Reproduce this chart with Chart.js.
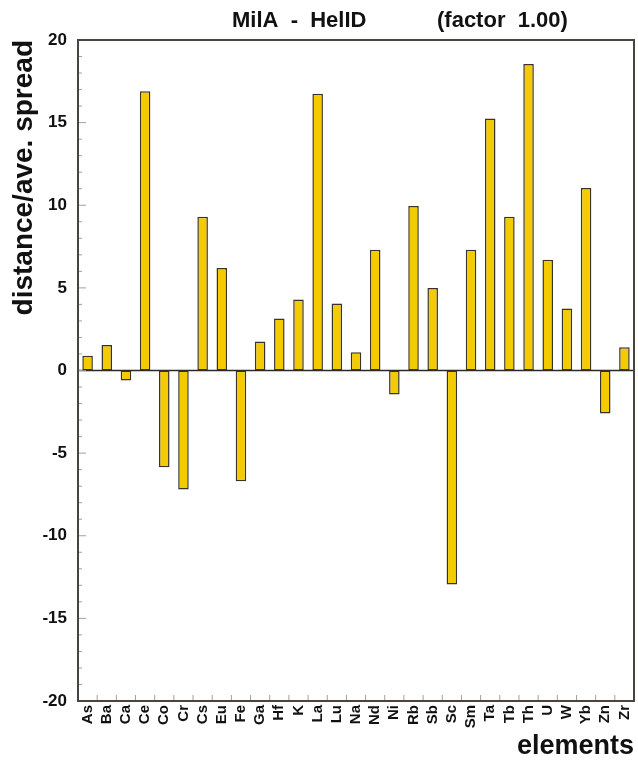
<!DOCTYPE html>
<html><head><meta charset="utf-8">
<script src="https://cdn.jsdelivr.net/npm/chart.js@4/dist/chart.umd.min.js"></script>
<style>html,body{margin:0;padding:0;background:#fff;}#wrap{width:638px;height:760px;}</style>
</head><body><div id="wrap"><canvas id="c" width="638" height="760"></canvas></div>
<script>
// ---- data ----
const elements = ['As','Ba','Ca','Ce','Co','Cr','Cs','Eu','Fe','Ga','Hf','K','La','Lu','Na','Nd','Ni','Rb','Sb','Sc','Sm','Ta','Tb','Th','U','W','Yb','Zn','Zr'];
const distances = [0.9,1.55,-0.6,16.9,-5.85,-7.2,9.3,6.2,-6.7,1.75,3.15,4.3,16.75,4.05,1.1,7.3,-1.45,9.95,5.0,-12.95,7.3,15.25,9.3,18.55,6.7,3.75,11.05,-2.6,1.4];
const yMin = -20, yMax = 20, yStep = 5, yMinorStep = 1;
const titleLeft = 'MilA  -  HelID';
const titleRight = '(factor  1.00)';
const yTitle = 'distance/ave. spread';
const xTitle = 'elements';

const FONT = "'Liberation Sans', Arial, Helvetica, sans-serif";

const decor = {
  id: 'decor',
  beforeDatasetsDraw(chart) {
    const {ctx, chartArea: a, scales: {x, y}} = chart;
    ctx.save();
    const y0 = y.getPixelForValue(0);
    ctx.strokeStyle = '#2a2a2a';
    ctx.lineWidth = 1.5;
    ctx.beginPath(); ctx.moveTo(a.left, y0); ctx.lineTo(a.right, y0); ctx.stroke();
    ctx.strokeStyle = '#a0a0a0';
    ctx.lineWidth = 1;
    for (let v = yMin; v <= yMax; v += yMinorStep) {
      const py = y.getPixelForValue(v);
      const len = (v % yStep === 0) ? 8 : 4;
      ctx.beginPath(); ctx.moveTo(a.left, py); ctx.lineTo(a.left + len, py); ctx.stroke();
    }
    for (let i = 1; i < elements.length; i++) {
      const px = (x.getPixelForValue(i - 1) + x.getPixelForValue(i)) / 2;
      ctx.beginPath(); ctx.moveTo(px, a.bottom); ctx.lineTo(px, a.bottom - 6); ctx.stroke();
    }
    ctx.restore();
  },
  afterDraw(chart) {
    const {ctx, chartArea: a} = chart;
    ctx.save();
    ctx.strokeStyle = '#4a4440';
    ctx.lineWidth = 2;
    ctx.strokeRect(a.left, a.top, a.right - a.left, a.bottom - a.top);
    ctx.fillStyle = '#111';
    ctx.font = "bold 22px " + FONT;
    ctx.textBaseline = 'alphabetic';
    ctx.textAlign = 'left';
    ctx.fillText(titleLeft, 232, 27);
    ctx.fillText(titleRight, 437, 27);
    ctx.restore();
  }
};

new Chart(document.getElementById('c'), {
  type: 'bar',
  data: {
    labels: elements,
    datasets: [{
      data: distances,
      backgroundColor: '#f3cb00',
      borderColor: '#3a3328',
      borderWidth: 1.5,
      borderSkipped: false,
      barPercentage: 0.55,
      categoryPercentage: 1.0
    }]
  },
  options: {
    responsive: false,
    animation: false,
    devicePixelRatio: 1,
    layout: {padding: {left: 0, right: 4, top: 40, bottom: 0}},
    plugins: {legend: {display: false}, tooltip: {enabled: false}, title: {display: false}},
    scales: {
      x: {
        grid: {display: false, drawTicks: false},
        border: {display: false},
        ticks: {
          autoSkip: false, minRotation: 90, maxRotation: 90, padding: 4,
          color: '#111', font: {family: FONT, size: 15, weight: 'bold'}
        },
        title: {
          display: true, text: xTitle, align: 'end', color: '#111',
          font: {family: FONT, size: 27, weight: 'bold', lineHeight: 1},
          padding: {top: 0, bottom: 0}
        },
        afterFit(s) { s.height = 59; s.paddingLeft = 0; s.paddingRight = 0; }
      },
      y: {
        min: yMin, max: yMax,
        grid: {display: false, drawTicks: false},
        border: {display: false},
        ticks: {
          stepSize: yStep, padding: 11, color: '#111',
          font: {family: FONT, size: 17, weight: 'bold'}
        },
        title: {
          display: true, text: yTitle, align: 'end', color: '#111',
          font: {family: FONT, size: 28, weight: 'bold', lineHeight: 1},
          padding: {top: 10, bottom: 0}
        },
        afterFit(s) { s.width = 78; s.paddingTop = 0; s.paddingBottom = 0; }
      }
    }
  },
  plugins: [decor]
});
</script></body></html>
